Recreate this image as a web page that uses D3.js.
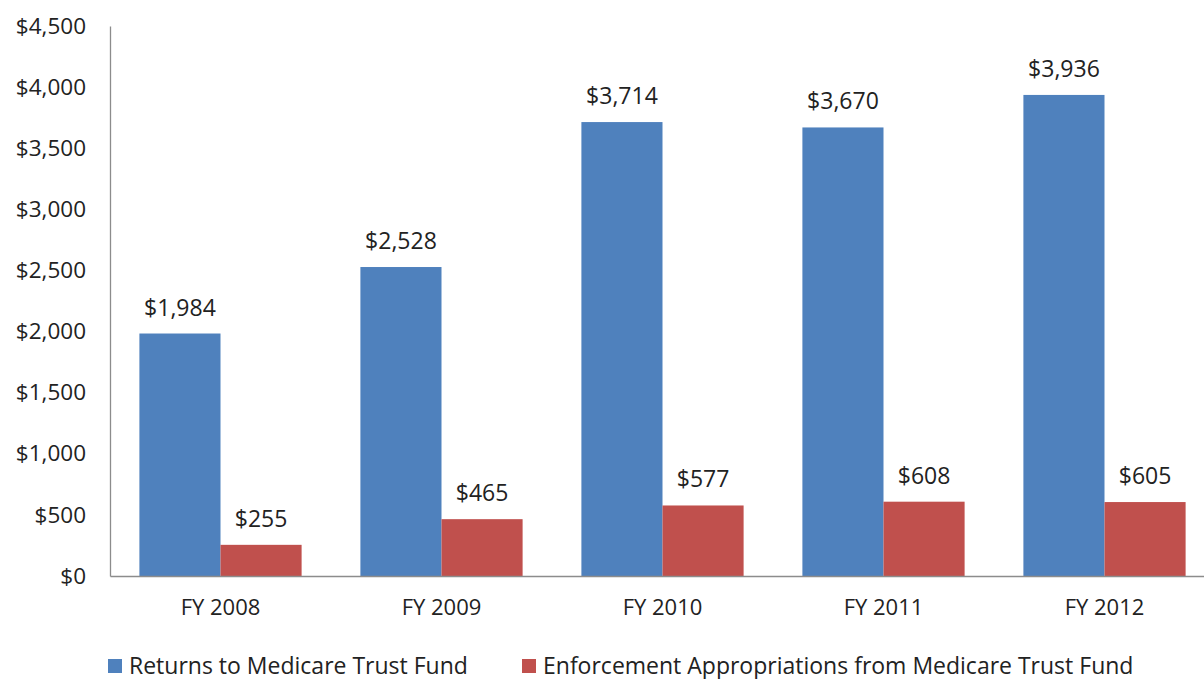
<!DOCTYPE html>
<html>
<head>
<meta charset="utf-8">
<script src="https://cdn.jsdelivr.net/npm/d3@7"></script>
<style>
  body { margin: 0; background: #fff; }
  text { font-family: "Open Sans", Lato, sans-serif; fill: #222; }
</style>
</head>
<body>
<div id="chart"></div>
<script>
// chart data
const years = ["FY 2008", "FY 2009", "FY 2010", "FY 2011", "FY 2012"];
const returnsValues = [1984, 2528, 3714, 3670, 3936];
const enforcementValues = [255, 465, 577, 608, 605];
const seriesNames = ["Returns to Medicare Trust Fund", "Enforcement Appropriations from Medicare Trust Fund"];
const seriesColors = ["#4f81bd", "#c0504d"];
const yTicks = [0, 500, 1000, 1500, 2000, 2500, 3000, 3500, 4000, 4500];

const c_width = 1204, c_height = 679;
const plotLeft = 110, plotRight = 1215, plotTop = 26, plotBottom = 576;

const svg = d3.select("#chart").append("svg")
  .attr("width", c_width)
  .attr("height", c_height);

const x0 = d3.scaleBand()
  .domain(years)
  .range([plotLeft, plotRight])
  .paddingInner(0.266)
  .paddingOuter(0.133);

const x1 = d3.scaleBand()
  .domain([0, 1])
  .range([0, x0.bandwidth()]);

const y = d3.scaleLinear()
  .domain([0, 4500])
  .range([plotBottom, plotTop]);

const fmt = d => "$" + d3.format(",")(d);

// y axis
const yAxis = svg.append("g")
  .attr("transform", "translate(" + plotLeft + ",0)")
  .call(d3.axisLeft(y).tickValues(yTicks).tickFormat(fmt).tickSize(0).tickPadding(24));
yAxis.select(".domain").attr("stroke", "#8c8c8c").attr("stroke-width", 1.3);
yAxis.selectAll("text").style("font-size", "22.5px").attr("fill", "#222");

// bars
const rows = years.map((yr, i) => ({ year: yr, vals: [returnsValues[i], enforcementValues[i]] }));

const groups = svg.selectAll("g.group")
  .data(rows)
  .enter()
  .append("g")
  .attr("class", "group")
  .attr("transform", d => "translate(" + x0(d.year) + ",0)");

groups.selectAll("rect")
  .data(d => d.vals.map((v, k) => ({ k: k, v: v })))
  .enter()
  .append("rect")
  .attr("x", d => x1(d.k))
  .attr("y", d => y(d.v))
  .attr("width", x1.bandwidth())
  .attr("height", d => plotBottom - y(d.v))
  .attr("fill", d => seriesColors[d.k]);

groups.selectAll("text.lbl")
  .data(d => d.vals.map((v, k) => ({ k: k, v: v })))
  .enter()
  .append("text")
  .attr("class", "lbl")
  .attr("x", d => x1(d.k) + x1.bandwidth() / 2)
  .attr("y", d => y(d.v) - 18)
  .attr("text-anchor", "middle")
  .style("font-size", "23px")
  .text(d => fmt(d.v));

// x axis
const xAxis = svg.append("g")
  .attr("transform", "translate(0," + plotBottom + ")")
  .call(d3.axisBottom(x0).tickSize(0).tickPadding(23).tickSizeOuter(0));
xAxis.select(".domain").attr("stroke", "#8c8c8c").attr("stroke-width", 1.3);
xAxis.selectAll("text").style("font-size", "22px").attr("fill", "#222");

// legend
const legendX = [108, 522];
const legend = svg.selectAll("g.legend")
  .data(seriesNames)
  .enter()
  .append("g")
  .attr("class", "legend")
  .attr("transform", (d, i) => "translate(" + legendX[i] + ",659)");

legend.append("rect")
  .attr("width", 14)
  .attr("height", 14)
  .attr("fill", (d, i) => seriesColors[i]);

legend.append("text")
  .attr("x", 21)
  .attr("y", 14.5)
  .style("font-size", "23px")
  .text(d => d);
</script>
</body>
</html>
